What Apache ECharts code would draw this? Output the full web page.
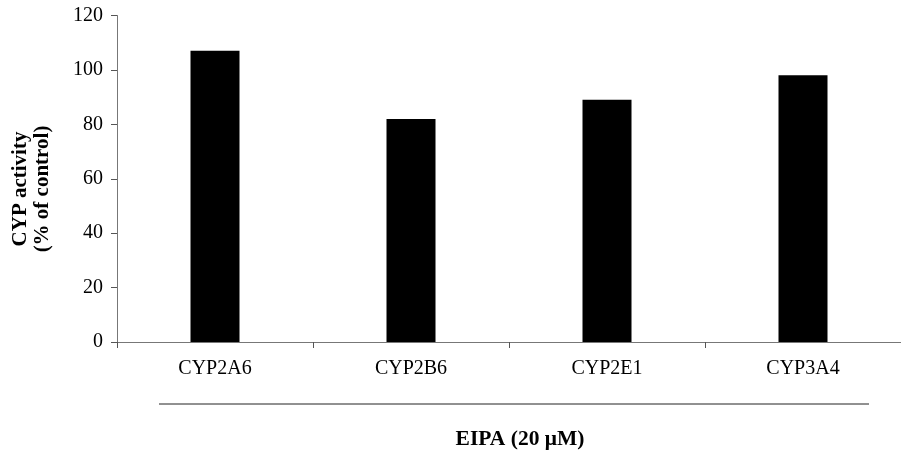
<!DOCTYPE html>
<html>
<head>
<meta charset="utf-8">
<script src="https://cdn.jsdelivr.net/npm/echarts@6/dist/echarts.min.js"></script>
<style>html,body{margin:0;padding:0;background:#fff}#c{width:901px;height:454px}</style>
</head>
<body>
<div id="c"></div>
<script>
const categories = ['CYP2A6', 'CYP2B6', 'CYP2E1', 'CYP3A4'];
const activity = [107, 82, 89, 98];
const yTicks = { min: 0, max: 120, interval: 20 };
const yTitle = 'CYP activity\n(% of control)';
const groupLabel = 'EIPA (20 \u03bcM)';

const FONT = '"Liberation Serif", "Times New Roman", serif';
const chart = echarts.init(document.getElementById('c'), null, { renderer: 'canvas' });
chart.setOption({
  animation: false,
  backgroundColor: '#fff',
  grid: { left: 117, top: 15.5, bottom: 112, right: -9.7, containLabel: false },
  xAxis: {
    type: 'category',
    data: categories,
    boundaryGap: true,
    axisLine: { show: true, lineStyle: { color: '#777', width: 1 } },
    axisTick: { show: true, length: 6, inside: false, lineStyle: { color: '#555' } },
    axisLabel: { color: '#000', fontFamily: FONT, fontSize: 20, margin: 17 },
    splitLine: { show: false }
  },
  yAxis: {
    type: 'value',
    min: yTicks.min, max: yTicks.max, interval: yTicks.interval,
    axisLine: { show: true, lineStyle: { color: '#777', width: 1 } },
    axisTick: { show: true, length: 6, lineStyle: { color: '#555' } },
    axisLabel: { color: '#000', fontFamily: FONT, fontSize: 20, margin: 14 },
    splitLine: { show: false }
  },
  series: [{
    type: 'bar',
    data: activity,
    barWidth: '25%',
    itemStyle: { color: '#000' }
  }],
  graphic: [
    { type: 'line', shape: { x1: 159, y1: 404, x2: 869, y2: 404 }, style: { stroke: '#222', lineWidth: 1 } },
    { type: 'text', style: { x: 520, y: 428, text: groupLabel, textAlign: 'center', textVerticalAlign: 'top',
      font: 'bold 21.5px ' + FONT, fill: '#000' } },
    { type: 'text', x: 32, y: 189, rotation: Math.PI / 2,
      style: { x: 0, y: 0, text: yTitle, textAlign: 'center', textVerticalAlign: 'middle',
        font: 'bold 21px ' + FONT, lineHeight: 22, fill: '#000' } }
  ]
});
</script>
</body>
</html>
